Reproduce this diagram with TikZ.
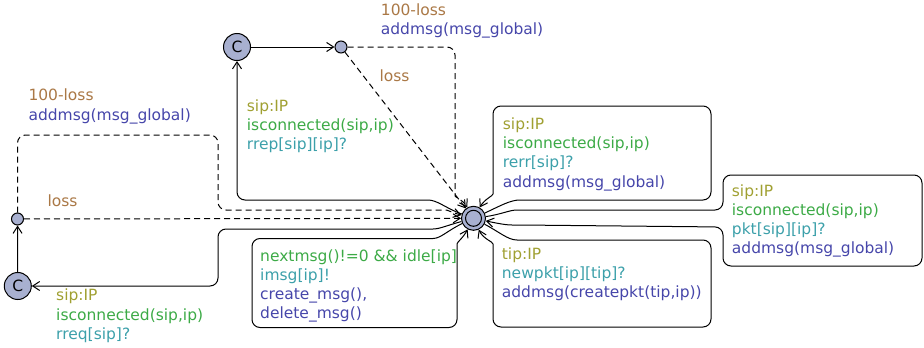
\documentclass[tikz,border=0pt]{standalone}
\usepackage{fontspec}
\setmainfont{DejaVu Sans}
\usetikzlibrary{arrows.meta}
\definecolor{selc}{RGB}{160,160,50}
\definecolor{guardc}{RGB}{60,170,70}
\definecolor{syncc}{RGB}{60,160,170}
\definecolor{updc}{RGB}{70,70,170}
\definecolor{probc}{RGB}{170,120,70}
\definecolor{statec}{RGB}{168,176,208}
\tikzset{
  lab/.style={anchor=base west, inner sep=0pt, font=\fontsize{15.5}{19.3}\selectfont},
  loc/.style={circle, draw, fill=statec, line width=1pt, inner sep=0pt},
  tr/.style={line width=1pt, -{Straight Barb[length=7pt,width=9pt]}},
  dsh/.style={dash pattern=on 6pt off 4pt},
}
\begin{document}
\begin{tikzpicture}[x=1pt,y=-1pt]
\useasboundingbox (0,0) rectangle (924,348);
% locations
\node[loc, minimum size=24pt] (init) at (473.5,218.3) {};
\draw[line width=1pt] (init.center) circle (8pt);
\node[loc, minimum size=27pt, font=\fontsize{15.5}{18}\selectfont] (c1) at (237,47) {C};
\node[loc, minimum size=27pt, font=\fontsize{15.5}{18}\selectfont] (c2) at (17.8,286) {C};
\node[loc, minimum size=12pt] (b1) at (341,47) {};
\node[loc, minimum size=12pt] (b2) at (17.5,219) {};
% edges
\draw[tr] (c1) -- (b1);
\draw[tr,dsh] (b1) -- (init);
\draw[tr,dsh,rounded corners=8pt] (b1) -- (455,47) -- (455,188) to[out=270,in=120] (init);
\draw[tr,rounded corners=8pt] (init) to[out=160,in=0] (420,200) -- (237,200) -- (c1);
\draw[tr,dsh] (b2) -- (init);
\draw[tr,dsh,rounded corners=8pt] (b2) -- (17.5,135) -- (218,135) -- (218,210) -- (438,210) to[out=0,in=165] (init);
\draw[tr,rounded corners=8pt] (init) to[out=195,in=0] (425,229) -- (218,229) -- (218,286) -- (c2);
\draw[tr] (c2) -- (b2);
% self loops
\draw[tr,rounded corners=8pt] (init) to[out=25,in=180] (528,200) -- (711,200) -- (711,106) -- (493,106) -- (493,186) to[out=270,in=60] (init);
\draw[tr,rounded corners=8pt] (init) to[out=8,in=180] (525,210) -- (723,210) -- (723,175) -- (922,175) -- (922,266) -- (723,266) -- (723,227) -- (520,225) to[out=180,in=-12] (init);
\draw[tr,rounded corners=8pt] (init) to[out=-28,in=180] (525,240) -- (711,240) -- (711,327) -- (493,327) -- (493,252) to[out=90,in=-65] (init);
\draw[tr,rounded corners=8pt] (init) to[out=205,in=0] (425,238.5) -- (252,238.5) -- (252,327.5) -- (457,327.5) -- (457,252) to[out=90,in=-118] (init);
% labels
\node[lab,text=probc] (p1) at (380.7,15) {100-loss};
\node[lab,text=updc] (u1) at (380.7,34.3) {addmsg(msg\_global)};
\node[lab,text=probc] (p2) at (379.3,81.7) {loss};
\node[lab,text=selc] (s1) at (246.7,111) {sip:IP};
\node[lab,text=guardc] (g1) at (246.7,130.3) {isconnected(sip,ip)};
\node[lab,text=syncc] (y1) at (246.7,149.6) {rrep[sip][ip]?};
\node[lab,text=probc] (p3) at (28.3,100.7) {100-loss};
\node[lab,text=updc] (u2) at (28.3,120) {addmsg(msg\_global)};
\node[lab,text=probc] (p4) at (47.3,206) {loss};
\node[lab,text=selc] (s2) at (56,300.7) {sip:IP};
\node[lab,text=guardc] (g2) at (56,320) {isconnected(sip,ip)};
\node[lab,text=syncc] (y2) at (56,339.3) {rreq[sip]?};
\node[lab,text=selc] (s3) at (502.7,129.3) {sip:IP};
\node[lab,text=guardc] (g3) at (502.7,148.6) {isconnected(sip,ip)};
\node[lab,text=syncc] (y3) at (502.7,167.9) {rerr[sip]?};
\node[lab,text=updc] (u3) at (502.7,187.2) {addmsg(msg\_global)};
\node[lab,text=selc] (s4) at (731.7,196) {sip:IP};
\node[lab,text=guardc] (g4) at (731.7,215.3) {isconnected(sip,ip)};
\node[lab,text=syncc] (y4) at (731.7,234.6) {pkt[sip][ip]?};
\node[lab,text=updc] (u4) at (731.7,253.9) {addmsg(msg\_global)};
\node[lab,text=selc] (s5) at (501.7,259.3) {tip:IP};
\node[lab,text=syncc] (y5) at (501.7,278.6) {newpkt[ip][tip]?};
\node[lab,text=updc] (u5) at (501.7,297.9) {addmsg(createpkt(tip,ip))};
\node[lab,text=guardc] (g5) at (260,261) {nextmsg()!=0 \&\& idle[ip]};
\node[lab,text=syncc] (y6) at (260,280.3) {imsg[ip]!};
\node[lab,text=updc] (u6) at (260,299.6) {create\_msg(),};
\node[lab,text=updc] (u7) at (260,318.9) {delete\_msg()};
\end{tikzpicture}
\end{document}
